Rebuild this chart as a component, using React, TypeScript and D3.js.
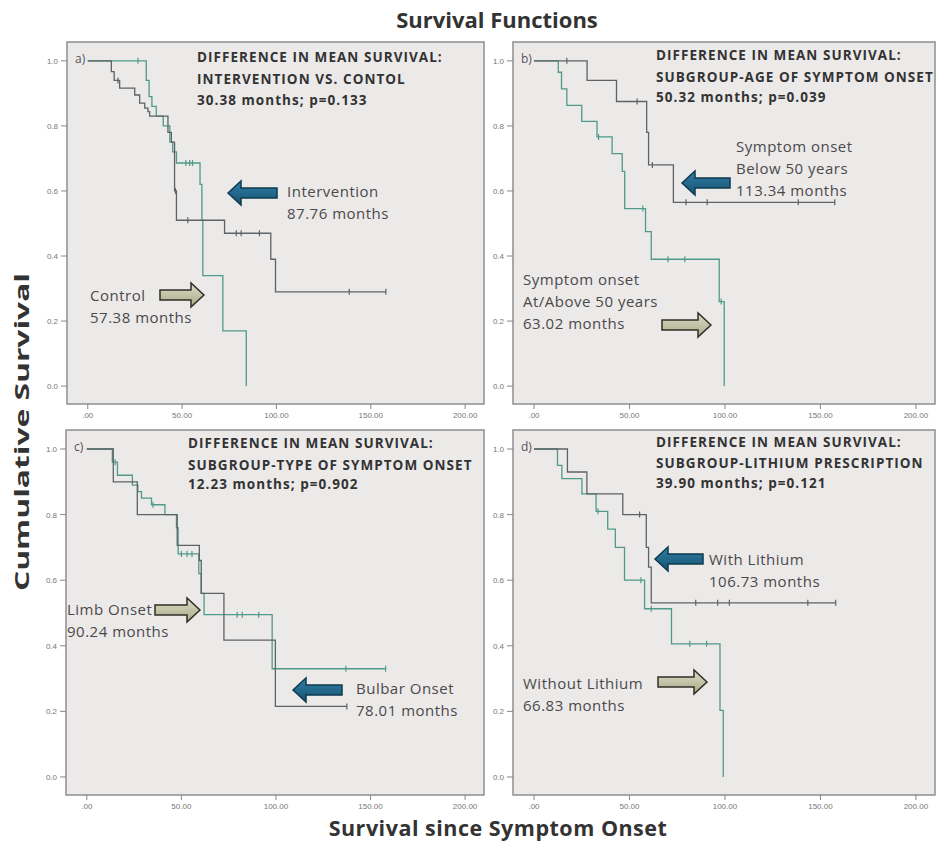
import * as d3 from 'd3';

type Step = [number, number];

// axis ticks
const xTicks = [0, 50, 100, 150, 200];
const xTickLabels = ['.00', '50.00', '100.00', '150.00', '200.00'];
const yTicks = [0, 0.2, 0.4, 0.6, 0.8, 1.0];
const yTickLabels = ['0.0', '0.2', '0.4', '0.6', '0.8', '1.0'];

// a) intervention vs control
const aIntervention: Step[] = [[0, 1], [12.5, 0.967], [14, 0.94], [16.9, 0.916], [24.9, 0.895], [27.5, 0.87], [30.2, 0.855], [31.9, 0.844], [32.8, 0.83], [42.5, 0.78], [44.3, 0.75], [46, 0.6], [47, 0.51], [72.5, 0.47], [97, 0.39], [99.5, 0.29]];
const aInterventionCens = [16, 46.5, 53, 78.7, 81.3, 91, 138.6, 158];
const aControl: Step[] = [[0, 1], [31, 0.94], [32.5, 0.89], [34, 0.86], [36.3, 0.83], [40, 0.8], [43.5, 0.75], [45, 0.72], [47, 0.686], [59.5, 0.62], [60.5, 0.51], [61, 0.34], [71.6, 0.17], [84, 0]];
const aControlCens = [26.6, 52, 54, 55.5];

// b) age of symptom onset
const bBelow50: Step[] = [[0, 1], [27.8, 0.94], [43.2, 0.875], [59, 0.78], [60, 0.68], [73, 0.565]];
const bBelow50Cens = [17.2, 54, 62, 79.6, 90.7, 138.4, 157.5];
const bAbove50: Step[] = [[0, 1], [12.7, 0.965], [14.4, 0.914], [17.2, 0.863], [25, 0.814], [33, 0.766], [40.9, 0.715], [46.2, 0.66], [47.5, 0.546], [58.4, 0.475], [61.4, 0.39], [97, 0.26], [99.6, 0]];
const bAbove50Cens = [33.8, 57, 70.2, 79, 98];

// c) type of symptom onset
const cBulbar: Step[] = [[0, 1], [14, 0.9], [26.7, 0.8], [47.8, 0.706], [59.5, 0.66], [60.5, 0.56], [72.5, 0.417], [99.7, 0.215]];
const cBulbarCens = [137.5];
const cLimb: Step[] = [[0, 1], [13.5, 0.96], [16.2, 0.92], [24.1, 0.89], [27, 0.87], [28.9, 0.85], [34.2, 0.83], [41.3, 0.8], [47.4, 0.76], [48.3, 0.68], [59.2, 0.62], [60.5, 0.56], [62, 0.495], [98, 0.33]];
const cLimbCens = [15, 35, 50, 53, 55.6, 79.5, 82.2, 90.9, 137, 158];

// d) lithium prescription
const dWith: Step[] = [[0, 1], [17.5, 0.93], [27.7, 0.863], [46.5, 0.8], [58.8, 0.7], [60, 0.64], [61.4, 0.531]];
const dWithCens = [55.3, 84.7, 96.2, 102.3, 143.4, 158];
const dWithout: Step[] = [[0, 1], [12.3, 0.95], [14.6, 0.91], [25.1, 0.863], [32.5, 0.81], [38.6, 0.756], [42.6, 0.7], [47.4, 0.6], [57.9, 0.513], [72, 0.406], [97.4, 0.203], [99.1, 0]];
const dWithoutCens = [33.5, 56, 61.4, 81.6, 90.4];

const GRAY = '#5d6366';
const TEAL = '#4f9a8a';

type Curve = { steps: Step[]; cens: number[]; color: string };
type Arrow = { dir: 'left' | 'right'; x0: number; x1: number; cy: number };
type Note = { x: number; y: number; lines: string[] };
type Panel = {
  left: number; top: number; right: number; bottom: number;
  tag: string; header: string[]; hx: number; hy: number[];
  curves: Curve[]; arrows: Arrow[]; notes: Note[];
};

const panels: Panel[] = [
  {
    left: 67, top: 42, right: 484, bottom: 404, tag: 'a)',
    header: ['DIFFERENCE IN MEAN SURVIVAL:', 'INTERVENTION VS. CONTOL', '30.38 months; p=0.133'],
    hx: 130, hy: [19.5, 42, 63],
    curves: [
      { steps: aControl, cens: aControlCens, color: TEAL },
      { steps: aIntervention, cens: aInterventionCens, color: GRAY },
    ],
    arrows: [{ dir: 'left', x0: 161, x1: 210, cy: 151 }, { dir: 'right', x0: 93, x1: 137, cy: 253 }],
    notes: [{ x: 220, y: 155, lines: ['Intervention', '87.76 months'] }, { x: 23, y: 259, lines: ['Control', '57.38 months'] }],
  },
  {
    left: 513, top: 42, right: 935, bottom: 404, tag: 'b)',
    header: ['DIFFERENCE IN MEAN SURVIVAL:', 'SUBGROUP-AGE OF SYMPTOM ONSET', '50.32 months; p=0.039'],
    hx: 143, hy: [18, 39.5, 59.5],
    curves: [
      { steps: bAbove50, cens: bAbove50Cens, color: TEAL },
      { steps: bBelow50, cens: bBelow50Cens, color: GRAY },
    ],
    arrows: [{ dir: 'left', x0: 169, x1: 217, cy: 141 }, { dir: 'right', x0: 149, x1: 198, cy: 283 }],
    notes: [
      { x: 223, y: 110, lines: ['Symptom onset', 'Below 50 years', '113.34 months'] },
      { x: 10, y: 243, lines: ['Symptom onset', 'At/Above 50 years', '63.02 months'] },
    ],
  },
  {
    left: 66, top: 430, right: 484, bottom: 795, tag: 'c)',
    header: ['DIFFERENCE IN MEAN SURVIVAL:', 'SUBGROUP-TYPE OF SYMPTOM ONSET', '12.23 months; p=0.902'],
    hx: 122, hy: [18.3, 40, 59],
    curves: [
      { steps: cLimb, cens: cLimbCens, color: TEAL },
      { steps: cBulbar, cens: cBulbarCens, color: GRAY },
    ],
    arrows: [{ dir: 'right', x0: 89, x1: 134, cy: 180 }, { dir: 'left', x0: 227, x1: 276, cy: 260 }],
    notes: [{ x: 1, y: 185, lines: ['Limb Onset', '90.24 months'] }, { x: 290, y: 264, lines: ['Bulbar Onset', '78.01 months'] }],
  },
  {
    left: 513, top: 430, right: 935, bottom: 795, tag: 'd)',
    header: ['DIFFERENCE IN MEAN SURVIVAL:', 'SUBGROUP-LITHIUM PRESCRIPTION', '39.90 months; p=0.121'],
    hx: 143, hy: [17.3, 37.7, 57.7],
    curves: [
      { steps: dWithout, cens: dWithoutCens, color: TEAL },
      { steps: dWith, cens: dWithCens, color: GRAY },
    ],
    arrows: [{ dir: 'left', x0: 142, x1: 190, cy: 129 }, { dir: 'right', x0: 145, x1: 194, cy: 252 }],
    notes: [{ x: 196, y: 135, lines: ['With Lithium', '106.73 months'] }, { x: 10, y: 259, lines: ['Without Lithium', '66.83 months'] }],
  },
];

function survivalAt(steps: Step[], t: number) {
  const i = d3.bisector((s: Step) => s[0]).right(steps, t) - 1;
  return steps[Math.max(0, i)][1];
}

function arrowPath(a: Arrow) {
  const headL = 13, headH = 24, shaftH = 10;
  const c = a.cy;
  if (a.dir === 'left') {
    const t = a.x0, e = a.x1, h = t + headL;
    return `M${t},${c}L${h},${c - headH / 2}L${h},${c - shaftH / 2}L${e},${c - shaftH / 2}L${e},${c + shaftH / 2}L${h},${c + shaftH / 2}L${h},${c + headH / 2}Z`;
  }
  const t = a.x1, e = a.x0, h = t - headL;
  return `M${t},${c}L${h},${c - headH / 2}L${h},${c - shaftH / 2}L${e},${c - shaftH / 2}L${e},${c + shaftH / 2}L${h},${c + shaftH / 2}L${h},${c + headH / 2}Z`;
}

const KmPanel = ({ p }: { p: Panel }) => {
  const x = d3.scaleLinear().domain([-11, 210]).range([p.left, p.right]);
  const y = d3.scaleLinear().domain([-0.055, 1.058]).range([p.bottom, p.top]);
  const line = d3.line<Step>().x(d => x(d[0])).y(d => y(d[1])).curve(d3.curveStepAfter);

  return (
    <g>
      <rect x={p.left} y={p.top} width={p.right - p.left} height={p.bottom - p.top}
        fill="#ece9e9" stroke="#8e8e8e" strokeWidth={1.5} />
      {yTicks.map((t, i) => (
        <g key={'y' + i}>
          <line x1={p.left - 6} x2={p.left} y1={y(t)} y2={y(t)} stroke="#888" />
          <text x={p.left - 9} y={y(t) + 3} fontSize={8} fill="#777" textAnchor="end"
            fontFamily="Liberation Sans, sans-serif">{yTickLabels[i]}</text>
        </g>
      ))}
      {xTicks.map((t, i) => (
        <g key={'x' + i}>
          <line x1={x(t)} x2={x(t)} y1={p.bottom} y2={p.bottom + 5} stroke="#888" />
          <text x={x(t)} y={p.bottom + 14} fontSize={8} fill="#777" textAnchor="middle"
            fontFamily="Liberation Sans, sans-serif">{xTickLabels[i]}</text>
        </g>
      ))}
      {p.curves.map((c, i) => {
        const last = c.steps[c.steps.length - 1];
        const end = c.cens.length ? Math.max(last[0], d3.max(c.cens) as number) : last[0];
        const pts: Step[] = [...c.steps, [end, last[1]]];
        return (
          <g key={'c' + i}>
            <path d={line(pts) || ''} fill="none" stroke={c.color} strokeWidth={1.3} />
            {c.cens.map((t, j) => {
              const s = survivalAt(c.steps, t);
              return <line key={j} x1={x(t)} x2={x(t)} y1={y(s) - 3} y2={y(s) + 3} stroke={c.color} strokeWidth={1.2} />;
            })}
          </g>
        );
      })}
      <text x={p.left + 8} y={p.top + 21} fontSize={12} fill="#555" fontFamily="Open Sans, sans-serif">{p.tag}</text>
      {p.header.map((h, i) => (
        <text key={'h' + i} x={p.left + p.hx} y={p.top + p.hy[i]} fontSize={13.5} fontWeight="bold"
          letterSpacing={1.05} fill="#333" fontFamily="Open Sans, sans-serif">{h}</text>
      ))}
      {p.arrows.map((a, i) => (
        <path key={'a' + i} d={arrowPath({ ...a, x0: a.x0 + p.left, x1: a.x1 + p.left, cy: a.cy + p.top })}
          fill={a.dir === 'left' ? 'url(#blueFill)' : 'url(#beigeFill)'}
          stroke={a.dir === 'left' ? '#0e3a4f' : '#2e2e26'} strokeWidth={1.5} />
      ))}
      {p.notes.map((n, i) => (
        <text key={'n' + i} x={p.left + n.x} y={p.top + n.y} fontSize={15} fill="#4a4a4a"
          letterSpacing={0.5} fontFamily="Open Sans, sans-serif">
          {n.lines.map((l, j) => (
            <tspan key={j} x={p.left + n.x} y={p.top + n.y + j * 22}>{l}</tspan>
          ))}
        </text>
      ))}
    </g>
  );
};

export default function App() {
  return (
    <svg width={937} height={847} style={{ position: 'absolute', left: 0, top: 0, background: '#fff' }}>
      <defs>
        <linearGradient id="blueFill" x1="0" y1="0" x2="0" y2="1">
          <stop offset="0" stopColor="#2f7fa6" />
          <stop offset="1" stopColor="#175271" />
        </linearGradient>
        <linearGradient id="beigeFill" x1="0" y1="0" x2="0" y2="1">
          <stop offset="0" stopColor="#dcdcc6" />
          <stop offset="1" stopColor="#a8ab88" />
        </linearGradient>
      </defs>
      <text x={497} y={28} fontSize={22} fontWeight="bold" textAnchor="middle" fill="#333"
        fontFamily="Open Sans, sans-serif">Survival Functions</text>
      {panels.map((p, i) => <KmPanel key={i} p={p} />)}
      <text x={498} y={836} fontSize={21.5} fontWeight="bold" textAnchor="middle" fill="#333"
        letterSpacing={0.5} fontFamily="Open Sans, sans-serif">Survival since Symptom Onset</text>
      <text transform="translate(29,432) rotate(-90)" fontSize={20} fontWeight="bold" textAnchor="middle"
        textLength={318} lengthAdjust="spacingAndGlyphs"
        fill="#333" fontFamily="Open Sans, sans-serif">Cumulative Survival</text>
    </svg>
  );
}
